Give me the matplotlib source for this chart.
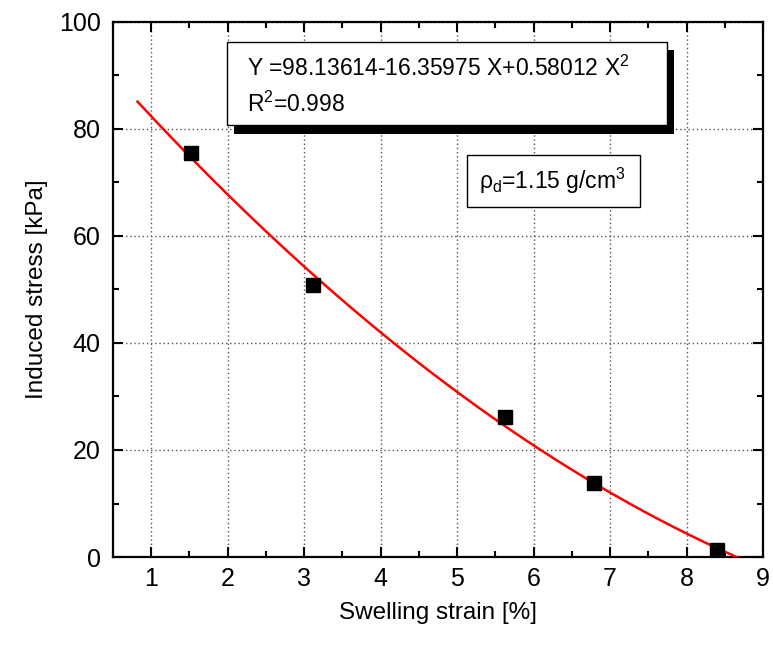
import numpy as np
import matplotlib
matplotlib.use('Agg')
import matplotlib.pyplot as plt
from matplotlib.patches import Rectangle
from matplotlib.ticker import MultipleLocator

plt.rcParams['font.family'] = ['Liberation Sans', 'DejaVu Sans']
plt.rcParams['mathtext.fontset'] = 'custom'
plt.rcParams['mathtext.rm'] = 'Liberation Sans'
plt.rcParams['mathtext.it'] = 'Liberation Sans'
plt.rcParams['mathtext.bf'] = 'Liberation Sans:bold'

# swelling tests
STRAIN = [1.52, 3.12, 5.62, 6.79, 8.40]
STRESS = [75.6, 50.8, 26.1, 13.8, 1.4]

# quadratic fit  Y = a + b X + c X^2
FIT_COEF = [98.13614, -16.35975, 0.58012]
R2 = 0.998
FIT_RANGE = [0.82, 8.67]
DENSITY = 1.15

fig = plt.figure(figsize=(7.73, 6.52), dpi=100)
ax = fig.add_axes([0.1462, 0.1457, 0.8409, 0.8206])

xf = np.linspace(FIT_RANGE[0], FIT_RANGE[1], 200)
yf = FIT_COEF[0] + FIT_COEF[1] * xf + FIT_COEF[2] * xf ** 2
ax.plot(xf, yf, color='red', lw=1.8, zorder=3)
ax.plot(STRAIN, STRESS, 's', color='black', markersize=10, zorder=4)

ax.set_xlim(0.5, 9)
ax.set_ylim(0, 100)
ax.xaxis.set_major_locator(MultipleLocator(1))
ax.xaxis.set_minor_locator(MultipleLocator(0.5))
ax.yaxis.set_major_locator(MultipleLocator(20))
ax.yaxis.set_minor_locator(MultipleLocator(10))
ax.tick_params(which='both', direction='in', top=True, right=True, width=1.5,
               labelsize=18)
ax.tick_params(axis='x', pad=7)
ax.tick_params(axis='y', pad=9)
ax.tick_params(which='major', length=7)
ax.tick_params(which='minor', length=4)
for s in ax.spines.values():
    s.set_linewidth(1.6)
ax.grid(True, which='major', ls=(0, (1, 2)), color='#555555', lw=1)
ax.set_axisbelow(True)

ax.set_xlabel('Swelling strain [%]', fontsize=17.5, labelpad=8)
ax.set_ylabel('Induced stress [kPa]', fontsize=17.5, labelpad=8)

# equation box with drop shadow
tr = ax.transAxes
ax.add_patch(Rectangle((0.186, 0.791), 0.677, 0.156, transform=tr,
                       facecolor='black', edgecolor='none', zorder=5))
ax.add_patch(Rectangle((0.175, 0.807), 0.677, 0.156, transform=tr,
                       facecolor='white', edgecolor='black', lw=1, zorder=6))
eq = 'Y =%.5f-%.5f X+%.5f X$^2$' % (FIT_COEF[0], -FIT_COEF[1], FIT_COEF[2])
ax.text(0.206, 0.914, eq, transform=tr, fontsize=16.5, va='center', zorder=7)
ax.text(0.206, 0.846, 'R$^2$=%.3f' % R2, transform=tr, fontsize=16.5,
        va='center', zorder=7)

# dry density box
ax.add_patch(Rectangle((0.545, 0.654), 0.265, 0.097, transform=tr,
                       facecolor='white', edgecolor='black', lw=1, zorder=6))
ax.text(0.5625, 0.703, r'$\rho_d$=%.2f g/cm$^3$' % DENSITY, transform=tr,
        fontsize=16.5, va='center', zorder=7)

fig.savefig('out.png', dpi=100)
